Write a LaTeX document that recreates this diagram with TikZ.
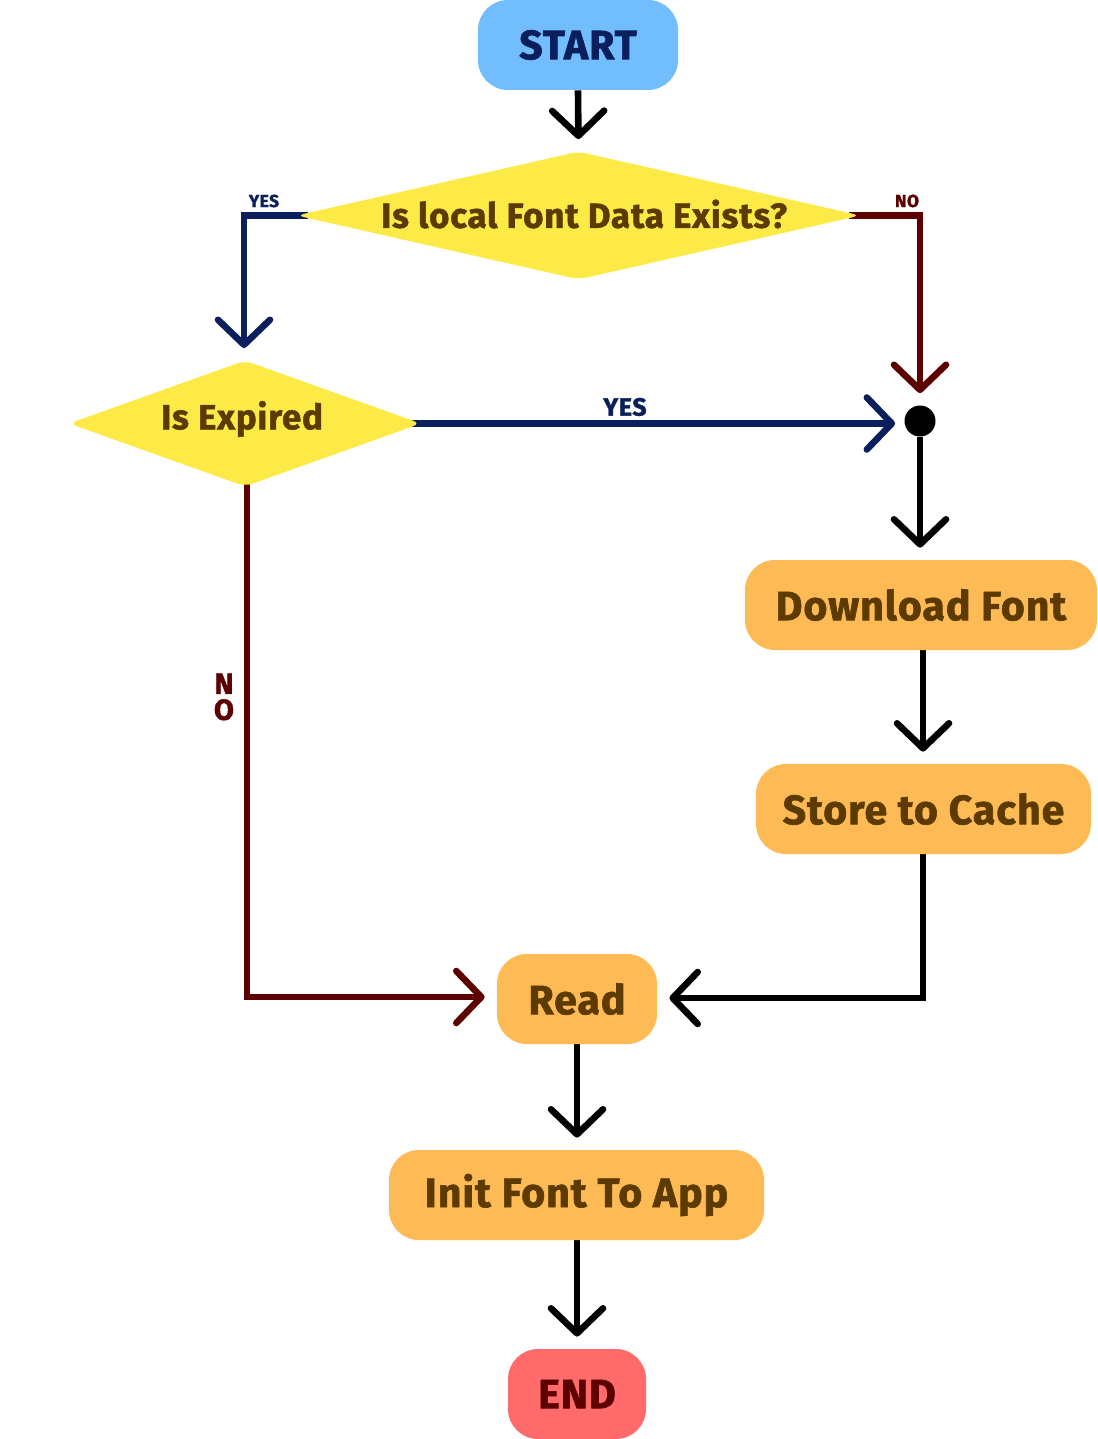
\documentclass[tikz,border=0pt]{standalone}
\usepackage{fontspec}
\setmainfont{Fira Sans}[BoldFeatures={FakeBold=1.5,LetterSpace=2.5}]
\usetikzlibrary{shapes.geometric,arrows.meta}
\pgfdeclarelayer{bg}
\pgfsetlayers{bg,main}
\definecolor{startblue}{HTML}{72BDFE}
\definecolor{navy}{HTML}{0A1F5C}
\definecolor{dyellow}{HTML}{FEEA47}
\definecolor{borange}{HTML}{FEBB55}
\definecolor{brown}{HTML}{5C3A00}
\definecolor{endred}{HTML}{FF6B6B}
\definecolor{dred}{HTML}{5C0000}
\tikzset{
  box/.style={rectangle, rounded corners=15pt, inner sep=0pt, font=\fontsize{20.5}{24}\selectfont\bfseries},
  procbox/.style={box, fill=borange, text=brown},
  dia/.style={diamond, fill=dyellow, inner sep=0pt, rounded corners=4pt},
  diatext/.style={text=brown, font=\fontsize{17.4}{20}\selectfont\bfseries},
  conn/.style={line width=3.3pt, -{Straight Barb[length=12.5pt,width=26pt,round]}, shorten >=6pt},
  lab/.style={font=\bfseries, inner sep=0pt},
}
\begin{document}
\begin{tikzpicture}[x=0.5pt,y=-0.5pt]
\useasboundingbox (0,0) rectangle (1097,1439);
% nodes
\node[box, fill=startblue, text=navy, minimum width=100pt, minimum height=45pt] (start) at (578,45) {START};
\node[dia, minimum width=282pt, minimum height=64pt] (d1) at (578.5,215.5) {};
\node[diatext] (t1) at (584,214) {Is local Font Data Exists?};
\node[dia, minimum width=176pt, minimum height=63pt] (d2) at (245,423.5) {};
\node[diatext] (t2) at (242,419) {Is Expired};
\node[circle, fill=black, inner sep=0pt, minimum size=15.5pt] (dot) at (920,421) {};
\node[procbox, minimum width=176pt, minimum height=45pt] (dl) at (921,605) {Download Font};
\node[procbox, minimum width=167.5pt, minimum height=45pt] (sc) at (923.5,809) {Store to Cache};
\node[procbox, minimum width=80pt, minimum height=45pt] (rd) at (577,999) {Read};
\node[procbox, minimum width=187.5pt, minimum height=45pt] (init) at (576.5,1195) {Init Font To App};
\node[box, fill=endred, text=dred, minimum width=69pt, minimum height=45pt] (end) at (577,1394) {END};
% labels
\node[lab, text=navy, font=\fontsize{8.7}{10}\selectfont\bfseries] (y1) at (264,201) {YES};
\node[lab, text=dred, font=\fontsize{8.7}{10}\selectfont\bfseries] (n1) at (907,201) {NO};
\node[lab, text=navy, font=\fontsize{12.5}{14}\selectfont\bfseries] (y2) at (625,407) {YES};
\node[lab, text=dred, font=\fontsize{14.5}{17}\selectfont\bfseries, align=center] (n2) at (224,697) {N\\[-4pt]O};
% connectors
\begin{pgfonlayer}{bg}
\draw[conn] (start.south) -- (d1.north);
\draw[conn, navy] ([xshift=6pt]d1.west) -- (244,215.5) -- (d2.north -| 244,0);
\draw[conn, dred] ([xshift=-6pt]d1.east) -- (dot.north |- d1.east) -- (dot.north);
\draw[conn, navy, shorten >=4.5pt] ([xshift=-6pt]d2.east) -- (dot.west |- d2.east);
\draw[conn] (dot.south) -- (dot.south |- dl.north);
\draw[conn] (dl.south -| 923,0) -- (sc.north -| 923,0);
\draw[conn] (sc.south -| 923,0) -- (923,998) -- (rd.east |- 0,998);
\draw[conn, dred] ([yshift=6pt]d2.south -| 247,0) -- (247,997) -- (rd.west |- 0,997);
\draw[conn] (rd.south) -- (init.north -| rd.south);
\draw[conn] (init.south -| rd.south) -- (end.north -| rd.south);
\end{pgfonlayer}
\end{tikzpicture}
\end{document}
